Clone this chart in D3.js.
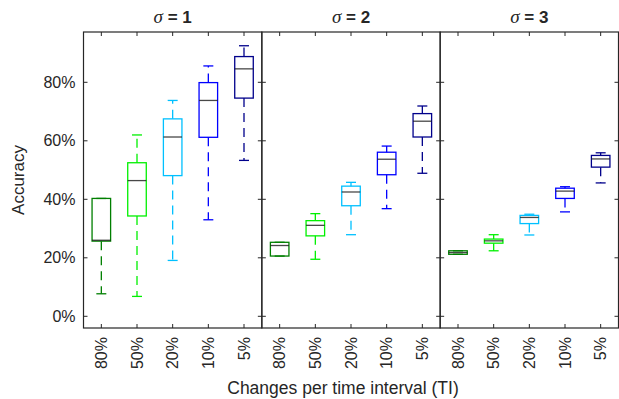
<!DOCTYPE html>
<html><head><meta charset="utf-8">
<script src="https://cdn.jsdelivr.net/npm/d3@7"></script>
<style>body{margin:0;background:#fff}svg{display:block}text{font-family:"Liberation Sans",Arial,sans-serif;fill:#262626}</style>
</head><body><svg id="c" width="619" height="399"></svg>
<script>
const categories = ["80%", "50%", "20%", "10%", "5%"];
const sigmas = [1, 2, 3];
const yTicks = [0, 20, 40, 60, 80];
const boxColors = ["#007f00", "#00f000", "#00c0ff", "#0000ff", "#00008b"];
// per sigma, per category (accuracy %)
const whiskerLow = [[7.7, 6.8, 19.1, 33.0, 53.3], [20.6, 19.5, 27.9, 36.8, 48.9], [21.2, 22.4, 27.8, 35.7, 45.6]];
const q1 = [[25.7, 34.3, 48.1, 61.2, 74.6], [20.6, 27.5, 37.8, 48.4, 61.3], [21.2, 25.0, 31.7, 40.3, 51.0]];
const median = [[26.0, 46.4, 61.3, 73.8, 84.6], [24.2, 31.1, 42.5, 53.7, 66.7], [21.8, 25.8, 33.8, 42.8, 53.8]];
const q3 = [[40.3, 52.5, 67.5, 79.9, 88.8], [25.3, 32.7, 44.5, 56.1, 69.3], [22.4, 26.4, 34.5, 43.8, 55.0]];
const whiskerHigh = [[40.3, 62.0, 73.8, 85.6, 92.5], [25.3, 35.1, 45.8, 58.2, 71.9], [22.4, 27.9, 34.9, 44.3, 55.9]];

const svg = d3.select("#c");
const pLeft = 83.5, pRight = 618.5, pTop = 32, pBottom = 328;
const pw = (pRight - pLeft) / 3;
const y = d3.scaleLinear().domain([-4, 97.2]).range([pBottom, pTop]);
const axisCol = "#262626";
const tickLen = 4;

sigmas.forEach((s, si) => {
  const x0 = pLeft + si * pw;
  const x = d3.scaleLinear().domain([0.5, 5.5]).range([x0, x0 + pw]);
  const step = x(2) - x(1);
  const g = svg.append("g");
  g.append("rect").attr("x", x0).attr("y", pTop).attr("width", pw).attr("height", pBottom - pTop)
    .attr("fill", "none").attr("stroke", axisCol).attr("stroke-width", 1.2);
  yTicks.forEach(t => {
    g.append("line").attr("x1", x0).attr("x2", x0 + tickLen).attr("y1", y(t)).attr("y2", y(t)).attr("stroke", axisCol);
    g.append("line").attr("x1", x0 + pw).attr("x2", x0 + pw - tickLen).attr("y1", y(t)).attr("y2", y(t)).attr("stroke", axisCol);
  });
  categories.forEach((c, ci) => {
    const cx = x(ci + 1);
    g.append("line").attr("x1", cx).attr("x2", cx).attr("y1", pTop).attr("y2", pTop + tickLen).attr("stroke", axisCol);
    g.append("line").attr("x1", cx).attr("x2", cx).attr("y1", pBottom).attr("y2", pBottom - tickLen).attr("stroke", axisCol);
    g.append("text").attr("transform", `translate(${cx},${pBottom + 9}) rotate(-90)`)
      .attr("text-anchor", "end").attr("dy", "0.35em").attr("font-size", 16).text(c);
  });
  if (si === 0) {
    yTicks.forEach(t => {
      g.append("text").attr("x", x0 - 8).attr("y", y(t)).attr("dy", "0.35em")
        .attr("text-anchor", "end").attr("font-size", 16).text(t + "%");
    });
  }
  const tt = g.append("text").attr("x", x0 + pw / 2).attr("y", 23).attr("text-anchor", "middle").attr("font-size", 17);
  tt.append("tspan").attr("font-style", "italic").attr("font-family", "'Liberation Serif',serif").attr("font-size", 19).text("σ");
  tt.append("tspan").attr("font-weight", "bold").text(" = " + s);
  categories.forEach((c, ci) => {
    const cx = x(ci + 1);
    const col = boxColors[ci];
    const bw = step * 0.52, cw = step * 0.28;
    const lo = whiskerLow[si][ci], a = q1[si][ci], m = median[si][ci], b = q3[si][ci], hi = whiskerHigh[si][ci];
    if (hi > b) g.append("line").attr("x1", cx).attr("x2", cx).attr("y1", y(b)).attr("y2", y(hi))
      .attr("stroke", col).attr("stroke-width", 1.3).attr("stroke-dasharray", "9,6");
    if (lo < a) g.append("line").attr("x1", cx).attr("x2", cx).attr("y1", y(a)).attr("y2", y(lo))
      .attr("stroke", col).attr("stroke-width", 1.3).attr("stroke-dasharray", "9,6");
    [lo, hi].forEach(v => g.append("line").attr("x1", cx - cw / 2).attr("x2", cx + cw / 2)
      .attr("y1", y(v)).attr("y2", y(v)).attr("stroke", col).attr("stroke-width", 1.3));
    g.append("rect").attr("x", cx - bw / 2).attr("y", y(b)).attr("width", bw).attr("height", Math.max(0.5, y(a) - y(b)))
      .attr("fill", "none").attr("stroke", col).attr("stroke-width", 1.3);
    g.append("line").attr("x1", cx - bw / 2).attr("x2", cx + bw / 2).attr("y1", y(m)).attr("y2", y(m))
      .attr("stroke", "#1a1a1a").attr("stroke-opacity", 0.8).attr("stroke-width", 1.3);
  });
});

svg.append("text").attr("transform", `translate(24,${(pTop + pBottom) / 2}) rotate(-90)`)
  .attr("text-anchor", "middle").attr("font-size", 17).text("Accuracy");
svg.append("text").attr("x", 343).attr("y", 394).attr("text-anchor", "middle").attr("font-size", 17.5)
  .text("Changes per time interval (TI)");
</script></body></html>
